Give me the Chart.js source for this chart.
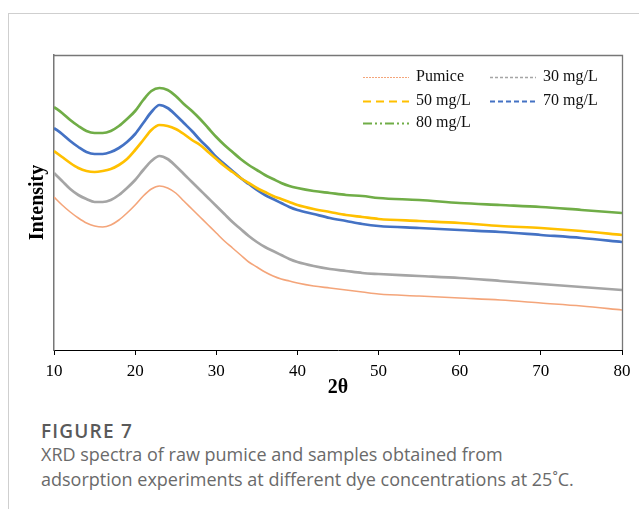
<!DOCTYPE html>
<html>
<head>
<meta charset="utf-8">
<script src="https://cdn.jsdelivr.net/npm/chart.js@4/dist/chart.umd.min.js"></script>
<style>
  html, body { margin: 0; padding: 0; background: #fff; }
  body { width: 639px; height: 509px; position: relative; overflow: hidden; }
  #card { position: absolute; left: 8px; top: 13px; width: 640px; height: 520px;
          border-left: 1px solid #cfcfcf; border-top: 1px solid #cfcfcf; }
  #chart { position: absolute; left: 0; top: 0; }
  .cap { position: absolute; left: 41px; font-family: "Open Sans", sans-serif; white-space: nowrap; line-height: normal; }
  #fig { top: 418px; font-size: 19px; font-weight: 600; color: #5a5a5a; letter-spacing: 1.2px; }
  #l1 { top: 442px; font-size: 18px; color: #6a6a6a; }
  #l2 { top: 467px; font-size: 18px; color: #6a6a6a; }
</style>
</head>
<body>
<div id="card"></div>
<canvas id="chart" width="639" height="400"></canvas>
<div class="cap" id="fig">FIGURE 7</div>
<div class="cap" id="l1">XRD spectra of raw pumice and samples obtained from</div>
<div class="cap" id="l2">adsorption experiments at different dye concentrations at 25˚C.</div>
<script>
// 2θ positions (degrees)
const angles = [10,11,12,13,14,15,16,17,18,19,20,21,22,23,24,25,26,27,28,29,30,31,32,33,34,35,36,37,38,39,40,42,44,46,48,50,55,60,65,70,75,80];
// Intensity (arbitrary units)
const pumice = [153,145,138,132,127,124,123,125,130,137,145,154,161,164,162,157,149,141,133,125,117,109,102,95,88,83,78,74,71,69,67,64,62,60,58,56,54,52,50,47,44,40];
const c30 = [177,169,161,155,151,148,148,150,155,162,170,180,189,194,191,184,176,168,160,152,144,136,128,121,114,108,103,99,95,91,88,84,81,79,77,76,74,72,69,66,63,60];
const c50 = [199,193,187,182,179,178,179,181,185,191,200,210,220,225,224,221,216,210,205,198,191,184,178,172,167,162,158,154,151,148,145,141,138,135,133,131,129,127,124,122,119,115];
const c70 = [222,216,209,203,198,196,196,198,202,208,216,227,238,245,242,235,227,219,210,202,193,186,179,172,166,160,155,151,147,143,140,136,132,129,126,124,122,120,118,115,112,108];
const c80 = [243,237,230,224,219,217,217,219,224,231,239,250,259,262,260,254,246,239,231,222,213,205,198,191,185,180,175,171,167,164,162,159,157,155,154,152,150,147,145,143,140,137];
const seriesLabels = ["Pumice", "30 mg/L", "50 mg/L", "70 mg/L", "80 mg/L"];
const xTicks = [10,20,30,40,50,60,70,80];

const pts = arr => arr.map((v, i) => ({ x: angles[i], y: v }));
const styles = [
  { color: "#F4A57A", width: 1.6, dash: [2, 1], lw: 1 },
  { color: "#A5A5A5", width: 2.7, dash: [3, 2], lw: 1.3 },
  { color: "#FFC000", width: 2.7, dash: [8, 5], lw: 2 },
  { color: "#4472C4", width: 2.7, dash: [5, 3], lw: 2 },
  { color: "#70AD47", width: 2.7, dash: [9, 3, 2, 3, 2, 3], lw: 2 }
];
const values = [pumice, c30, c50, c70, c80];
const datasets = values.map((arr, i) => ({
  label: seriesLabels[i],
  data: pts(arr),
  borderColor: styles[i].color,
  borderWidth: styles[i].width,
  pointRadius: 0,
  cubicInterpolationMode: "monotone",
  fill: false,
  legendDash: styles[i].dash,
  legendWidth: styles[i].lw
}));

// legend placement (layout only)
const legendSlots = [
  { x: 363, tx: 416, y: 77 }, { x: 490, tx: 543, y: 77 },
  { x: 363, tx: 416, y: 101 }, { x: 490, tx: 543, y: 101 },
  { x: 363, tx: 416, y: 123 }
];

const framePlugin = {
  id: "frameLegend",
  afterDraw(chart) {
    const { ctx, chartArea: a } = chart;
    ctx.save();
    ctx.strokeStyle = "#777777";
    ctx.lineWidth = 1.3;
    ctx.beginPath();
    ctx.moveTo(a.left, Math.round(a.top) + 0.5);
    ctx.lineTo(Math.round(a.right) + 0.5, Math.round(a.top) + 0.5);
    ctx.lineTo(Math.round(a.right) + 0.5, a.bottom);
    ctx.stroke();
    ctx.font = "16px 'Liberation Serif', serif";
    ctx.textBaseline = "middle";
    ctx.fillStyle = "#111";
    chart.data.datasets.forEach((ds, i) => {
      const s = legendSlots[i];
      ctx.strokeStyle = ds.borderColor;
      ctx.lineWidth = ds.legendWidth;
      ctx.setLineDash(ds.legendDash);
      ctx.beginPath();
      ctx.moveTo(s.x, s.y + 0.5);
      ctx.lineTo(s.x + 46, s.y + 0.5);
      ctx.stroke();
      ctx.setLineDash([]);
      ctx.fillText(ds.label, s.tx, s.y);
    });
    ctx.restore();
  }
};

new Chart(document.getElementById("chart"), {
  type: "line",
  data: { datasets },
  plugins: [framePlugin],
  options: {
    responsive: false,
    animation: false,
    devicePixelRatio: 1,
    layout: { padding: { left: 0, top: 55, right: 17, bottom: 0 } },
    plugins: { legend: { display: false }, tooltip: { enabled: false } },
    scales: {
      x: {
        type: "linear",
        min: 10, max: 80,
        afterBuildTicks: s => { s.ticks = xTicks.map(v => ({ value: v })); },
        afterFit: s => { s.height = 50; },
        ticks: { color: "#000", font: { family: "'Liberation Serif', serif", size: 17 }, padding: 6, maxRotation: 0 },
        grid: { drawOnChartArea: false, drawTicks: true, tickLength: 5, tickColor: "#000" },
        border: { display: true, color: "#000", width: 1 },
        title: { display: true, text: "2θ", color: "#000", font: { family: "'Liberation Serif', serif", size: 20, weight: "bold" }, padding: { top: 0, bottom: 0 } }
      },
      y: {
        min: 0, max: 295,
        afterFit: s => { s.width = 54; },
        ticks: { display: false },
        grid: { drawOnChartArea: false, drawTicks: false },
        border: { display: true, color: "#777", width: 1.5 },
        title: { display: true, text: "Intensity", color: "#000", font: { family: "'Liberation Serif', serif", size: 20, weight: "bold" }, padding: { top: 26, bottom: 0 } }
      }
    }
  }
});
</script>
</body>
</html>
